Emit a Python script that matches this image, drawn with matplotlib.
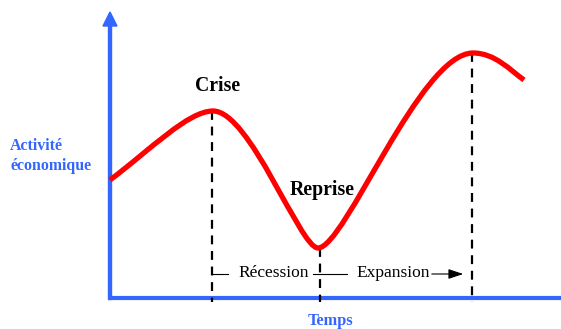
import matplotlib.pyplot as plt
from matplotlib.path import Path
from matplotlib.patches import PathPatch

# cycle anchor points (time, activity) and bezier handles
curve_x = [0, 40, 78, 103, 140, 190, 208, 235, 310, 363, 385, 400, 414]
curve_y = [118, 148, 187, 187, 187, 50, 50, 50, 245, 245, 245, 228, 218]
curve_codes = [Path.MOVETO] + [Path.CURVE4] * 12

# turning points (dashed markers)
turn_x = [102, 210, 362]
turn_y = [187, 50, 245]

phase_labels = ["Crise", "Reprise"]
phase_pos = [(108, 212), (212, 108)]

blue = "#3366FF"
serif = "Liberation Serif"

fig = plt.figure(figsize=(5.61, 3.29), dpi=100)
ax = fig.add_axes([0, 0, 1, 1])
ax.set_xlim(-110, 451)
ax.set_ylim(-31, 298)
ax.axis("off")

# axes of the diagram
ax.plot([-2, 451], [0, 0], color=blue, lw=3, solid_capstyle="butt")
ax.arrow(0, -1.5, 0, 287.5, width=3, head_width=14, head_length=14,
         length_includes_head=True, color=blue)

# dashed verticals at turning points
for tx, ty in zip(turn_x, turn_y):
    ax.plot([tx, tx], [ty, -4], color="black", lw=1.6, ls=(0, (4, 3)), zorder=2)

# the cycle itself
path = Path(list(zip(curve_x, curve_y)), curve_codes)
ax.add_patch(PathPatch(path, facecolor="none", edgecolor="#FF0000", lw=3.8,
                       capstyle="butt", zorder=3))

for lab, (px, py) in zip(phase_labels, phase_pos):
    ax.text(px, py, lab, ha="center", va="center", fontsize=14.2,
            fontweight="bold", family=serif)

# récession / expansion markers
ax.plot([102, 118], [24, 24], color="black", lw=0.8)
ax.plot([203, 237], [24, 24], color="black", lw=0.8)
ax.annotate("", xy=(356, 24), xytext=(319, 24),
            arrowprops=dict(arrowstyle="-|>,head_length=0.9,head_width=0.3",
                            color="black", lw=0.8))
ax.text(164, 25, "Récession", ha="center", va="center", fontsize=12.5, family=serif)
ax.text(283, 25, "Expansion", ha="center", va="center", fontsize=12.5, family=serif)

ax.text(-100, 142, "Activité\néconomique", ha="left", va="center", fontsize=11.4,
        fontweight="bold", color=blue, family=serif, linespacing=1.25)
ax.text(220, -23, "Temps", ha="center", va="center", fontsize=11.8,
        fontweight="bold", color=blue, family=serif)

fig.savefig("out.png", dpi=100)
